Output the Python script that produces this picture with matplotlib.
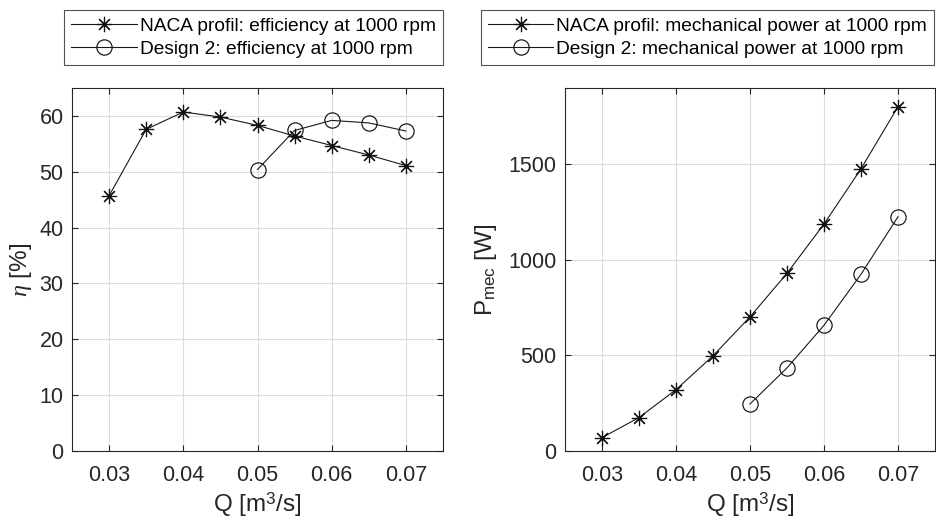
import numpy as np
import matplotlib.pyplot as plt

plt.rcParams['font.family'] = ['Liberation Sans', 'DejaVu Sans']
plt.rcParams['mathtext.fontset'] = 'custom'
plt.rcParams['mathtext.rm'] = 'Liberation Sans'
plt.rcParams['mathtext.it'] = 'Liberation Serif:italic'

# Flow rate Q [m^3/s]
q_naca = [0.030, 0.035, 0.040, 0.045, 0.050, 0.055, 0.060, 0.065, 0.070]
q_design2 = [0.050, 0.055, 0.060, 0.065, 0.070]

# Efficiency [%]
eta_naca = [45.7, 57.6, 60.7, 59.8, 58.3, 56.4, 54.7, 53.0, 51.1]
eta_design2 = [50.4, 57.4, 59.2, 58.75, 57.3]

# Mechanical power [W]
pmec_naca = [70, 175, 321, 498, 702, 930, 1188, 1477, 1802]
pmec_design2 = [246, 435, 658, 925, 1226]

x_ticks = [0.03, 0.04, 0.05, 0.06, 0.07]
dark = '#262626'
asterisk = (8, 2, 0)

fig = plt.figure(figsize=(9.36, 5.25), dpi=100)
ax1 = fig.add_axes([72 / 936, 1 - 451 / 525, 371 / 936, 363 / 525])
ax2 = fig.add_axes([565 / 936, 1 - 451 / 525, 370 / 936, 363 / 525])


def style_axes(ax):
    ax.set_xlim(0.025, 0.075)
    ax.set_xticks(x_ticks)
    ax.set_xticklabels(['0.03', '0.04', '0.05', '0.06', '0.07'])
    ax.grid(True, color='#dcdcdc', linewidth=0.8)
    ax.set_axisbelow(True)
    ax.tick_params(direction='in', top=True, right=True, length=4,
                   colors=dark, labelsize=15.5, width=0.8)
    ax.tick_params(axis='x', pad=10)
    ax.tick_params(axis='y', pad=6)
    for s in ax.spines.values():
        s.set_color(dark)
        s.set_linewidth(0.8)
    ax.set_xlabel('Q [m$^3$/s]', fontsize=17.5, color=dark, labelpad=3)


line_kw = dict(color='#1a1a1a', linewidth=0.8, markerfacecolor='none',
               markeredgecolor='#111111')

ax1.plot(q_naca, eta_naca, marker=asterisk, markersize=11,
         markeredgewidth=0.85, label='NACA profil: efficiency at 1000 rpm', **line_kw)
ax1.plot(q_design2, eta_design2, marker='o', markersize=11,
         markeredgewidth=0.85, label='Design 2: efficiency at 1000 rpm', **line_kw)
ax1.set_ylim(0, 65)
ax1.set_yticks([0, 10, 20, 30, 40, 50, 60])
style_axes(ax1)
ax1.set_ylabel(r'$\eta$ [%]', fontsize=17.5, color=dark, labelpad=4)

ax2.plot(q_naca, pmec_naca, marker=asterisk, markersize=11,
         markeredgewidth=0.85, label='NACA profil: mechanical power at 1000 rpm', **line_kw)
ax2.plot(q_design2, pmec_design2, marker='o', markersize=11,
         markeredgewidth=0.85, label='Design 2: mechanical power at 1000 rpm', **line_kw)
ax2.set_ylim(0, 1900)
ax2.set_yticks([0, 500, 1000, 1500])
style_axes(ax2)
ax2.set_ylabel('P$_{\\mathrm{mec}}$ [W]', fontsize=17.5, color=dark, labelpad=7)

for ax, x0, x1 in [(ax1, 62, 445), (ax2, 480, 935)]:
    leg = ax.legend(loc='center', bbox_to_anchor=((x0 + x1) / 2 / 936, 1 - 37.5 / 525),
                    bbox_transform=fig.transFigure, fontsize=13.8, frameon=True,
                    fancybox=False, edgecolor=dark, handlelength=3.4,
                    handletextpad=0.15, labelspacing=0.3, borderpad=0.38,
                    borderaxespad=0)
    leg.get_frame().set_linewidth(0.8)

fig.savefig('out.png', dpi=100, facecolor='white')
